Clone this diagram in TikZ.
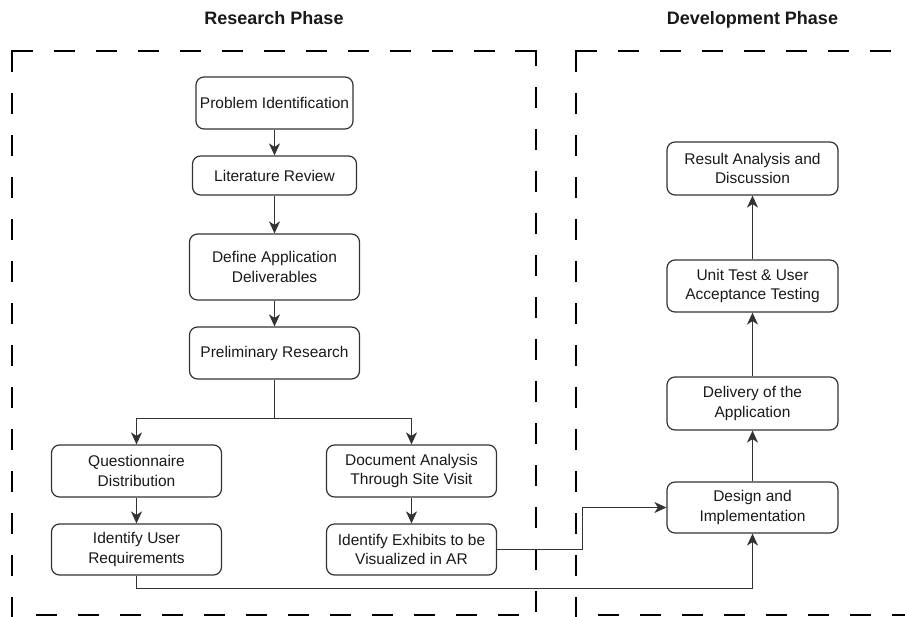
\documentclass[tikz,border=0pt]{standalone}
\usepackage{fontspec}
\setmainfont{Liberation Sans}
\usetikzlibrary{arrows.meta}
\begin{document}
\begin{tikzpicture}[x=1pt,y=-1pt,
  box/.style={draw=black!80, line width=1.2pt, rounded corners=8pt, minimum width=170pt,
    minimum height=52pt, inner sep=0pt, align=center,
    font=\fontsize{15.5}{19.5}\selectfont, text=black!90},
  conn/.style={draw=black!80, line width=1.3pt, -{Stealth[length=12pt,width=11pt,inset=3.5pt]}},
  phase/.style={draw=black, line width=2.6pt, dash pattern=on 21pt off 21pt},
  corner/.style={draw=black, line width=2.6pt, miter limit=4},
  title/.style={font=\bfseries\fontsize{18}{22}\selectfont, text=black!90, anchor=base}]
\useasboundingbox (0,0) rectangle (905,617);

% titles
\node[title] (rt) at (274,24.5) {Research Phase};
\node[title] (dt) at (752.5,24.5) {Development Phase};

% research phase frame
\draw[corner] (12,72) -- (12,51) -- (33,51);
\draw[phase, dash phase=21pt] (33,51) -- (515,51);
\draw[phase, dash phase=21pt] (12,72) -- (12,617);
\draw[corner] (515,51) -- (536,51) -- (536,66);
\draw[phase, dash phase=21pt] (536,66) -- (536,617);
\draw[phase] (36,615) -- (520,615);

% development phase frame
\draw[corner] (576,72) -- (576,51) -- (597,51);
\draw[phase, dash phase=21pt] (597,51) -- (910,51);
\draw[phase, dash phase=21pt] (576,72) -- (576,617);
\draw[phase] (598,615) -- (910,615);

% research nodes
\node[box, minimum width=157pt] (prob) at (274.5,103) {Problem Identification};
\node[box, minimum width=164pt, minimum height=39pt] (lit) at (274.5,175.5) {Literature Review};
\node[box, minimum height=66pt] (def) at (274.5,267) {Define Application\\Deliverables};
\node[box] (pre) at (274.5,353) {Preliminary Research};
\node[box] (que) at (136.5,471) {Questionnaire\\Distribution};
\node[box, minimum height=51pt] (iur) at (136.5,549.5) {Identify User\\Requirements};
\node[box] (doc) at (411.5,471) {Document Analysis\\Through Site Visit};
\node[box, minimum height=51pt] (exh) at (411.5,549.5) {Identify Exhibits to be\\Visualized in AR};

% development nodes
\node[box, minimum width=171pt, minimum height=53pt] (res) at (752.5,168.5) {Result Analysis and\\Discussion};
\node[box, minimum width=171pt] (uni) at (752.5,286) {Unit Test \& User\\Acceptance Testing};
\node[box, minimum width=171pt, minimum height=53pt] (del) at (752.5,403.5) {Delivery of the\\Application};
\node[box, minimum width=171pt, minimum height=51pt] (des) at (752.5,507.5) {Design and\\Implementation};

% junctions
\coordinate (br) at (274.5,418.5);
\coordinate (j1) at (582.5,549.5);
\coordinate (j2) at (136.5,588.5);

% connectors
\draw[conn] (prob) -- (lit);
\draw[conn] (lit) -- (def);
\draw[conn] (def) -- (pre);
\draw[conn] (pre.south) -- (br) -| (que.north);
\draw[conn] (br) -| (doc.north);
\draw[conn] (que) -- (iur);
\draw[conn] (doc) -- (exh);
\draw[conn] (exh.east) -- (j1) |- (des.west);
\draw[conn] (iur.south) -- (j2) -| (des.south);
\draw[conn] (des) -- (del);
\draw[conn] (del) -- (uni);
\draw[conn] (uni) -- (res);
\end{tikzpicture}
\end{document}
